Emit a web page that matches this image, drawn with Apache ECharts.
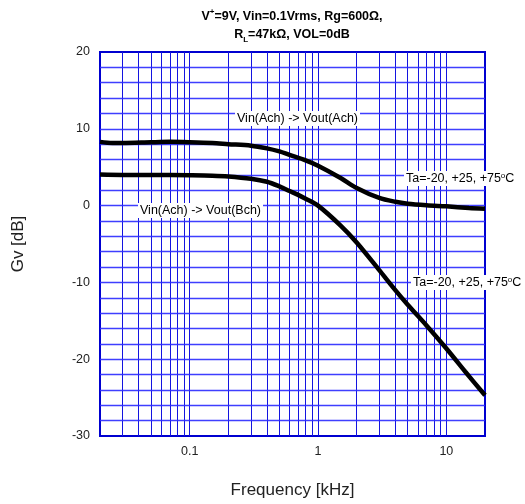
<!DOCTYPE html>
<html>
<head>
<meta charset="utf-8">
<script src="https://cdn.jsdelivr.net/npm/echarts@6/dist/echarts.min.js"></script>
<style>html,body{margin:0;padding:0;background:#fff}#c{width:525px;height:504px}</style>
</head>
<body>
<div id="c"></div>
<script>
// Vin(Ach) -> Vout(Ach)
const freqA = [0.02, 0.025, 0.03, 0.05, 0.07, 0.1, 0.15, 0.2, 0.3, 0.4, 0.5, 0.6, 0.8, 1.0, 1.5, 2, 3, 4, 5, 7, 10, 15, 20];
const gainA = [8.3, 8.15, 8.15, 8.25, 8.3, 8.25, 8.15, 8.0, 7.8, 7.45, 7.05, 6.6, 5.9, 5.2, 3.6, 2.3, 1.0, 0.5, 0.25, 0.05, -0.1, -0.3, -0.4];
// Vin(Ach) -> Vout(Bch)
const freqB = [0.02, 0.03, 0.05, 0.1, 0.15, 0.2, 0.3, 0.4, 0.5, 0.6, 0.7, 0.8, 1.0, 1.5, 2, 3, 4, 5, 7, 10, 14, 20];
const gainB = [4.05, 4.0, 4.0, 3.95, 3.9, 3.8, 3.5, 3.1, 2.5, 1.9, 1.4, 0.9, 0.0, -2.6, -4.8, -8.4, -11.0, -12.9, -15.6, -18.6, -21.6, -24.7];
// axis ticks and grid lines
const xTickLabels = [0.1, 1, 10];
const yTicks = [-30, -20, -10, 0, 10, 20];
const gridFreqs = [0.03,0.04,0.05,0.06,0.07,0.08,0.09,0.1,0.2,0.3,0.4,0.5,0.6,0.7,0.8,0.9,1,2,3,4,5,6,7,8,9,10];
const gridGains = [-28,-26,-24,-22,-20,-18,-16,-14,-12,-10,-8,-6,-4,-2,0,2,4,6,8,10,12,14,16,18];

const blue = '#1414e0';
const hblue = '#2a2aff';
const chart = echarts.init(document.getElementById('c'), null, {renderer: 'canvas'});
const font = 'Liberation Sans, Arial, sans-serif';

function fmtX(v) {
  const r = +(+v).toPrecision(3);
  return xTickLabels.some(t => Math.abs(t - r) < 1e-9) ? String(r) : '';
}

const labelStyle = {fontSize: 12.5, fontFamily: font, fill: '#000', backgroundColor: '#fff', padding: [1, 2, 1, 2]};
const taRich = {s: {fontSize: 8, fontFamily: font, verticalAlign: 'top', padding: [0, 0, 5, 0]}};

chart.setOption({
  animation: false,
  textStyle: {fontFamily: font},
  grid: {left: 100, right: 40, top: 52, bottom: 68, show: true, borderColor: '#0000d0', borderWidth: 2, backgroundColor: 'transparent'},
  xAxis: {
    type: 'log', logBase: 10, min: 0.02, max: 20,
    name: 'Frequency [kHz]', nameLocation: 'middle', nameGap: 46,
    nameTextStyle: {fontSize: 17, color: '#222', fontFamily: font},
    axisLine: {show: false}, axisTick: {show: false},
    splitLine: {show: false},
    axisLabel: {formatter: fmtX, fontSize: 12.5, color: '#222', margin: 9, fontFamily: font}
  },
  yAxis: {
    type: 'value', min: yTicks[0], max: yTicks[yTicks.length - 1], interval: 10,
    name: 'Gv [dB]', nameLocation: 'middle', nameGap: 73,
    nameTextStyle: {fontSize: 17, color: '#222', fontFamily: font},
    axisLine: {show: false}, axisTick: {show: false},
    axisLabel: {fontSize: 12.5, color: '#222', margin: 10, fontFamily: font},
    splitLine: {show: false}
  },
  series: [
    {
      type: 'line', data: [], z: 1, silent: true,
      markLine: {
        silent: true, symbol: ['none', 'none'], animation: false,
        label: {show: false},
        lineStyle: {color: blue, width: 1, type: 'solid', opacity: 1},
        emphasis: {disabled: true},
        data: gridFreqs.map(f => ({xAxis: f}))
      }
    },
    {
      type: 'line', data: [], z: 1, silent: true,
      markLine: {
        silent: true, symbol: ['none', 'none'], animation: false,
        label: {show: false},
        lineStyle: {color: hblue, width: 1.4, type: 'solid', opacity: 0.9},
        emphasis: {disabled: true},
        data: gridGains.map(g => ({yAxis: g}))
      }
    },
    {
      type: 'line', z: 5, smooth: 0.3, showSymbol: false, silent: true,
      lineStyle: {color: '#000', width: 4.5},
      data: freqA.map((f, i) => [f, gainA[i]])
    },
    {
      type: 'line', z: 5, smooth: 0.3, showSymbol: false, silent: true,
      lineStyle: {color: '#000', width: 4.5},
      data: freqB.map((f, i) => [f, gainB[i]])
    }
  ],
  graphic: [
    {
      type: 'text', x: 292, y: 8, z: 100,
      style: {
        text: '{b|V}{sup|+}{b|=9V, Vin=0.1Vrms, Rg=600Ω,}\n{b|R}{sub|L}{b|=47kΩ, VOL=0dB}',
        align: 'center', fill: '#000',
        rich: {
          b: {fontSize: 12.5, fontWeight: 'bold', fontFamily: font, lineHeight: 18},
          sup: {fontSize: 8, fontWeight: 'bold', fontFamily: font, verticalAlign: 'top', lineHeight: 18, padding: [0, 0, 6, 0]},
          sub: {fontSize: 8, fontWeight: 'bold', fontFamily: font, verticalAlign: 'bottom', lineHeight: 18, padding: [6, 0, 0, 0]}
        }
      }
    },
    {type: 'text', x: 235, y: 111, z: 100, style: Object.assign({text: 'Vin(Ach) -> Vout(Ach)'}, labelStyle)},
    {type: 'text', x: 138, y: 203, z: 100, style: Object.assign({text: 'Vin(Ach) -> Vout(Bch)'}, labelStyle)},
    {type: 'text', x: 404, y: 171, z: 100, style: Object.assign({text: 'Ta=-20, +25, +75{s|o}C', rich: taRich}, labelStyle)},
    {type: 'text', x: 411, y: 275, z: 100, style: Object.assign({text: 'Ta=-20, +25, +75{s|o}C', rich: taRich}, labelStyle)}
  ]
});
</script>
</body>
</html>
